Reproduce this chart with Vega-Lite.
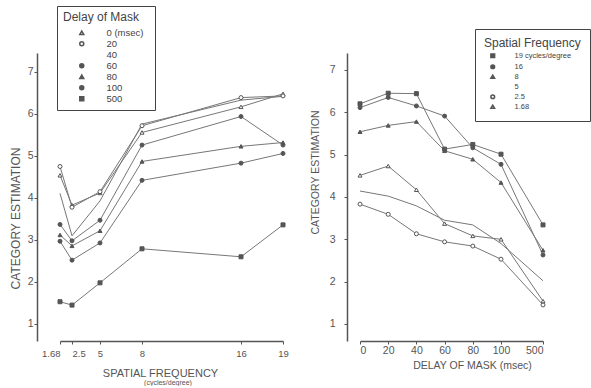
{
  "$schema": "https://vega.github.io/schema/vega-lite/v6.json",
  "padding": {"left": 9, "top": 5, "right": 0, "bottom": 0},
  "background": "white",
  "bounds": "flush",
  "spacing": 48,
  "config": {
    "view": {"stroke": null},
    "font": "Liberation Sans",
    "axis": {"grid": false, "domainColor": "#555", "domainWidth": 1.5, "tickColor": "#555", "tickSize": 3, "labelColor": "#555", "titleColor": "#555", "labelFontSize": 10.5, "titleFontWeight": "normal", "labelFont": "Liberation Sans", "titleFont": "Liberation Sans", "labelOverlap": false},
    "legend": {"titleFontWeight": "normal", "titleColor": "#444", "labelColor": "#444", "strokeColor": "#444", "fillColor": "white", "rowPadding": 0}
  },
  "datasets": {
    "bySF": [
      {"sf": 1.68, "delay": 0, "v": 4.54}, {"sf": 2.5, "delay": 0, "v": 3.83}, {"sf": 5, "delay": 0, "v": 4.12}, {"sf": 8, "delay": 0, "v": 5.56}, {"sf": 16, "delay": 0, "v": 6.17}, {"sf": 19, "delay": 0, "v": 6.48},
      {"sf": 1.68, "delay": 20, "v": 4.75}, {"sf": 2.5, "delay": 20, "v": 3.78}, {"sf": 5, "delay": 20, "v": 4.15}, {"sf": 8, "delay": 20, "v": 5.72}, {"sf": 16, "delay": 20, "v": 6.39}, {"sf": 19, "delay": 20, "v": 6.43},
      {"sf": 1.68, "delay": 40, "v": 4.11}, {"sf": 2.5, "delay": 40, "v": 3.10}, {"sf": 5, "delay": 40, "v": 3.93}, {"sf": 8, "delay": 40, "v": 5.76}, {"sf": 16, "delay": 40, "v": 6.33}, {"sf": 19, "delay": 40, "v": 6.42},
      {"sf": 1.68, "delay": 60, "v": 3.37}, {"sf": 2.5, "delay": 60, "v": 2.98}, {"sf": 5, "delay": 60, "v": 3.47}, {"sf": 8, "delay": 60, "v": 5.26}, {"sf": 16, "delay": 60, "v": 5.94}, {"sf": 19, "delay": 60, "v": 5.26},
      {"sf": 1.68, "delay": 80, "v": 3.12}, {"sf": 2.5, "delay": 80, "v": 2.86}, {"sf": 5, "delay": 80, "v": 3.22}, {"sf": 8, "delay": 80, "v": 4.87}, {"sf": 16, "delay": 80, "v": 5.23}, {"sf": 19, "delay": 80, "v": 5.32},
      {"sf": 1.68, "delay": 100, "v": 2.97}, {"sf": 2.5, "delay": 100, "v": 2.52}, {"sf": 5, "delay": 100, "v": 2.93}, {"sf": 8, "delay": 100, "v": 4.42}, {"sf": 16, "delay": 100, "v": 4.83}, {"sf": 19, "delay": 100, "v": 5.06},
      {"sf": 1.68, "delay": 500, "v": 1.53}, {"sf": 2.5, "delay": 500, "v": 1.45}, {"sf": 5, "delay": 500, "v": 1.98}, {"sf": 8, "delay": 500, "v": 2.79}, {"sf": 16, "delay": 500, "v": 2.60}, {"sf": 19, "delay": 500, "v": 3.36}
    ],
    "byDelay": [
      {"delay": 0, "sf": 19, "v": 6.20}, {"delay": 20, "sf": 19, "v": 6.45}, {"delay": 40, "sf": 19, "v": 6.44}, {"delay": 60, "sf": 19, "v": 5.13}, {"delay": 80, "sf": 19, "v": 5.24}, {"delay": 100, "sf": 19, "v": 5.01}, {"delay": 500, "sf": 19, "v": 3.34},
      {"delay": 0, "sf": 16, "v": 6.11}, {"delay": 20, "sf": 16, "v": 6.35}, {"delay": 40, "sf": 16, "v": 6.15}, {"delay": 60, "sf": 16, "v": 5.91}, {"delay": 80, "sf": 16, "v": 5.16}, {"delay": 100, "sf": 16, "v": 4.77}, {"delay": 500, "sf": 16, "v": 2.63},
      {"delay": 0, "sf": 8, "v": 5.54}, {"delay": 20, "sf": 8, "v": 5.69}, {"delay": 40, "sf": 8, "v": 5.78}, {"delay": 60, "sf": 8, "v": 5.09}, {"delay": 80, "sf": 8, "v": 4.89}, {"delay": 100, "sf": 8, "v": 4.34}, {"delay": 500, "sf": 8, "v": 2.74},
      {"delay": 0, "sf": 5, "v": 4.14}, {"delay": 20, "sf": 5, "v": 4.02}, {"delay": 40, "sf": 5, "v": 3.79}, {"delay": 60, "sf": 5, "v": 3.45}, {"delay": 80, "sf": 5, "v": 3.34}, {"delay": 100, "sf": 5, "v": 2.90}, {"delay": 500, "sf": 5, "v": 2.02},
      {"delay": 0, "sf": 2.5, "v": 3.83}, {"delay": 20, "sf": 2.5, "v": 3.59}, {"delay": 40, "sf": 2.5, "v": 3.13}, {"delay": 60, "sf": 2.5, "v": 2.94}, {"delay": 80, "sf": 2.5, "v": 2.84}, {"delay": 100, "sf": 2.5, "v": 2.53}, {"delay": 500, "sf": 2.5, "v": 1.45},
      {"delay": 0, "sf": 1.68, "v": 4.51}, {"delay": 20, "sf": 1.68, "v": 4.73}, {"delay": 40, "sf": 1.68, "v": 4.17}, {"delay": 60, "sf": 1.68, "v": 3.37}, {"delay": 80, "sf": 1.68, "v": 3.08}, {"delay": 100, "sf": 1.68, "v": 3.00}, {"delay": 500, "sf": 1.68, "v": 1.54}
    ]
  },
  "resolve": {"scale": {"x": "independent", "y": "independent", "shape": "independent", "fill": "independent"}, "legend": {"shape": "independent", "fill": "independent"}},
  "hconcat": [
    {
      "width": 262,
      "height": 288,
      "data": {"name": "bySF"},
      "title": {"text": "(cycles/degree)", "orient": "bottom", "fontSize": 7, "color": "#555", "fontWeight": "normal", "offset": 1, "anchor": "middle"},
      "encoding": {
        "x": {"field": "sf", "type": "quantitative",
          "scale": {"domain": [1.68, 2.5, 5, 8, 16, 19], "range": [23, 35, 63, 105, 204, 246], "nice": false, "zero": false},
          "axis": {"values": [1.68, 2.5, 5, 8, 16, 19], "labelExpr": "'' + datum.value", "labelFontSize": 9.5,
            "labelAlign": {"condition": [{"test": "datum.value == 1.68", "value": "right"}, {"test": "datum.value == 2.5", "value": "left"}], "value": "center"},
            "title": "SPATIAL FREQUENCY", "titleFontSize": 11, "titleX": 123, "titleY": 32, "titleBaseline": "middle", "labelPadding": 4}},
        "y": {"field": "v", "type": "quantitative",
          "scale": {"domain": [0.595, 7.452], "nice": false, "zero": false},
          "axis": {"values": [1, 2, 3, 4, 5, 6, 7], "title": "CATEGORY ESTIMATION", "titleFontSize": 12, "titleX": -22, "titleY": 165, "titleBaseline": "middle", "labelPadding": 1}}
      },
      "layer": [
        {"mark": {"type": "line", "color": "#777", "strokeWidth": 1}, "encoding": {"detail": {"field": "delay", "type": "nominal"}}},
        {"mark": {"type": "point", "filled": true, "stroke": "#555", "strokeWidth": 1, "size": 16, "opacity": 1},
          "encoding": {
            "shape": {"field": "delay", "type": "nominal",
              "scale": {"domain": [0, 20, 40, 60, 80, 100, 500], "range": ["triangle-up", "circle", "M0,0", "circle", "triangle-up", "circle", "square"]},
              "legend": {"orient": "none", "legendX": 20, "legendY": -47, "title": "Delay of Mask", "titleFontSize": 12, "labelFontSize": 9.5, "padding": 6, "symbolOffset": 14, "labelOffset": 20, "symbolSize": 16, "titlePadding": 4, "labelExpr": "datum.value == 0 ? '0   (msec)' : datum.label",
                "encode": {"symbols": {"update": {"stroke": {"value": "#555"}, "strokeWidth": {"value": 1}}}}}},
            "fill": {"field": "delay", "type": "nominal",
              "scale": {"domain": [0, 20, 40, 60, 80, 100, 500], "range": ["white", "white", "white", "#555", "#555", "#555", "#555"]},
              "legend": {"orient": "none", "legendX": 20, "legendY": -47, "title": "Delay of Mask", "titleFontSize": 12, "labelFontSize": 9.5, "padding": 6, "symbolOffset": 14, "labelOffset": 20, "symbolSize": 16, "titlePadding": 4, "labelExpr": "datum.value == 0 ? '0   (msec)' : datum.label",
                "encode": {"symbols": {"update": {"stroke": {"value": "#555"}, "strokeWidth": {"value": 1}}}}}}
          }}
      ]
    },
    {
      "width": 241,
      "height": 288,
      "data": {"name": "byDelay"},
      "encoding": {
        "x": {"field": "delay", "type": "quantitative",
          "scale": {"domain": [0, 100, 500], "range": [13, 154, 196], "nice": false, "zero": false},
          "axis": {"values": [0, 20, 40, 60, 80, 100, 500], "labelExpr": "'' + datum.value", "title": "DELAY OF MASK (msec)", "titleFontSize": 10.5, "titleX": 125, "titleY": 24, "titleBaseline": "middle", "labelPadding": 1}},
        "y": {"field": "v", "type": "quantitative",
          "scale": {"domain": [0.598, 7.40], "nice": false, "zero": false},
          "axis": {"values": [1, 2, 3, 4, 5, 6, 7], "title": "CATEGORY ESTIMATION", "titleFontSize": 10.5, "titleX": -32, "titleY": 119, "titleBaseline": "middle", "labelPadding": 9}}
      },
      "layer": [
        {"mark": {"type": "line", "color": "#777", "strokeWidth": 1}, "encoding": {"detail": {"field": "sf", "type": "nominal"}}},
        {"mark": {"type": "point", "filled": true, "stroke": "#555", "strokeWidth": 1, "size": 16, "opacity": 1},
          "encoding": {
            "shape": {"field": "sf", "type": "nominal",
              "scale": {"domain": [19, 16, 8, 5, 2.5, 1.68], "range": ["square", "circle", "triangle-up", "M0,0", "circle", "triangle-up"]},
              "legend": {"orient": "none", "legendX": 128, "legendY": -24, "title": "Spatial Frequency", "titleFontSize": 12, "labelFontSize": 7.5, "padding": 9, "symbolOffset": 5, "labelOffset": 18, "symbolSize": 14, "titlePadding": 2, "labelExpr": "datum.value == 19 ? '19    cycles/degree' : datum.label",
                "encode": {"symbols": {"update": {"stroke": {"value": "#555"}, "strokeWidth": {"value": 1}}}}}},
            "fill": {"field": "sf", "type": "nominal",
              "scale": {"domain": [19, 16, 8, 5, 2.5, 1.68], "range": ["#555", "#555", "#555", "#555", "white", "white"]},
              "legend": {"orient": "none", "legendX": 128, "legendY": -24, "title": "Spatial Frequency", "titleFontSize": 12, "labelFontSize": 7.5, "padding": 9, "symbolOffset": 5, "labelOffset": 18, "symbolSize": 14, "titlePadding": 2, "labelExpr": "datum.value == 19 ? '19    cycles/degree' : datum.label",
                "encode": {"symbols": {"update": {"stroke": {"value": "#555"}, "strokeWidth": {"value": 1}}}}}}
          }}
      ]
    }
  ]
}
